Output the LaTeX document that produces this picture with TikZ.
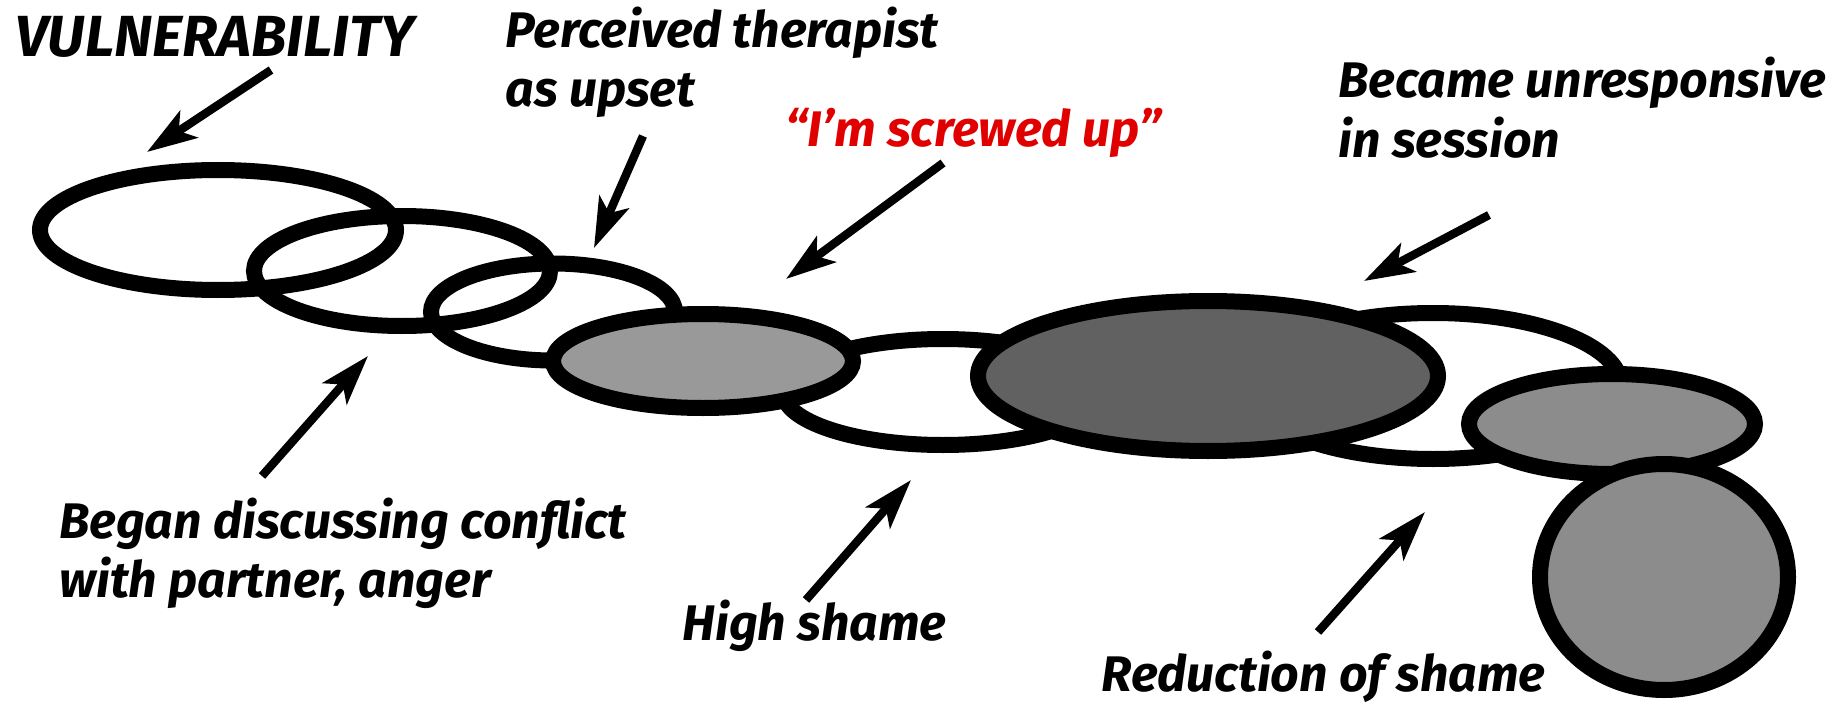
\documentclass[tikz,border=0pt]{standalone}
\usepackage{fontspec}
\setmainfont{Fira Sans}
\usepackage{xcolor}
\usepackage{tikz}
\usetikzlibrary{arrows.meta}
\definecolor{lightshade}{HTML}{999999}
\definecolor{darkshade}{HTML}{616161}
\definecolor{midshade}{HTML}{8C8C8C}
\definecolor{quotered}{HTML}{E00000}

\begin{document}
\begin{tikzpicture}[x=0.5pt, y=-0.5pt,
    ring/.style={line width=8pt},
    pointer/.style={line width=4.2pt, -{Stealth[length=25pt, width=16pt, inset=6pt]}},
    remark/.style={anchor=base west, inner sep=0pt, align=left,
        font=\fontsize{25}{29.5}\selectfont\bfseries\itshape}]
    \useasboundingbox (0,0) rectangle (1837,706);

    \draw[ring] (218,230) ellipse [x radius=178, y radius=60];
    \draw[ring] (402,271) ellipse [x radius=148, y radius=55];
    \draw[ring] (553,312) ellipse [x radius=122, y radius=48.5];
    \draw[ring, fill=white] (943,392) ellipse [x radius=160, y radius=53];
    \draw[ring, fill=lightshade] (703,361) ellipse [x radius=150, y radius=47];
    \draw[ring, fill=white] (1433,386) ellipse [x radius=188, y radius=73];
    \draw[ring, fill=darkshade] (1208,376) ellipse [x radius=230, y radius=75];
    \draw[ring, fill=midshade] (1612,424) ellipse [x radius=143, y radius=50];
    \draw[ring, fill=midshade] (1664,577) ellipse [x radius=124, y radius=113];

    \node[remark, font=\fontsize{29}{34}\selectfont\bfseries\itshape] (vuln) at (15,57) {VULNERABILITY};
    \node[remark] (perceived) at (505,107) {Perceived therapist\\as upset};
    \node[remark, text=quotered] (screwed) at (785,147) {“I’m screwed up”};
    \node[remark] (became) at (1338,157) {Became unresponsive\\in session};
    \node[remark] (began) at (59,597) {Began discussing conflict\\with partner, anger};
    \node[remark] (high) at (682,640) {High shame};
    \node[remark] (reduction) at (1101,691) {Reduction of shame};

    \coordinate (vulnTail) at (271,70);
    \coordinate (vulnTip) at (147,152);
    \coordinate (perceivedTail) at (643,136);
    \coordinate (perceivedTip) at (594,248);
    \coordinate (screwedTail) at (943,163);
    \coordinate (screwedTip) at (786,279);
    \coordinate (becameTail) at (1489,215);
    \coordinate (becameTip) at (1364,281);
    \coordinate (beganTail) at (262,476);
    \coordinate (beganTip) at (368,356);
    \coordinate (highTail) at (806,600);
    \coordinate (highTip) at (911,480);
    \coordinate (reductionTail) at (1318,632);
    \coordinate (reductionTip) at (1425,512);

    \draw[pointer] (vulnTail) -- (vulnTip);
    \draw[pointer] (perceivedTail) -- (perceivedTip);
    \draw[pointer] (screwedTail) -- (screwedTip);
    \draw[pointer] (becameTail) -- (becameTip);
    \draw[pointer] (beganTail) -- (beganTip);
    \draw[pointer] (highTail) -- (highTip);
    \draw[pointer] (reductionTail) -- (reductionTip);
\end{tikzpicture}
\end{document}
